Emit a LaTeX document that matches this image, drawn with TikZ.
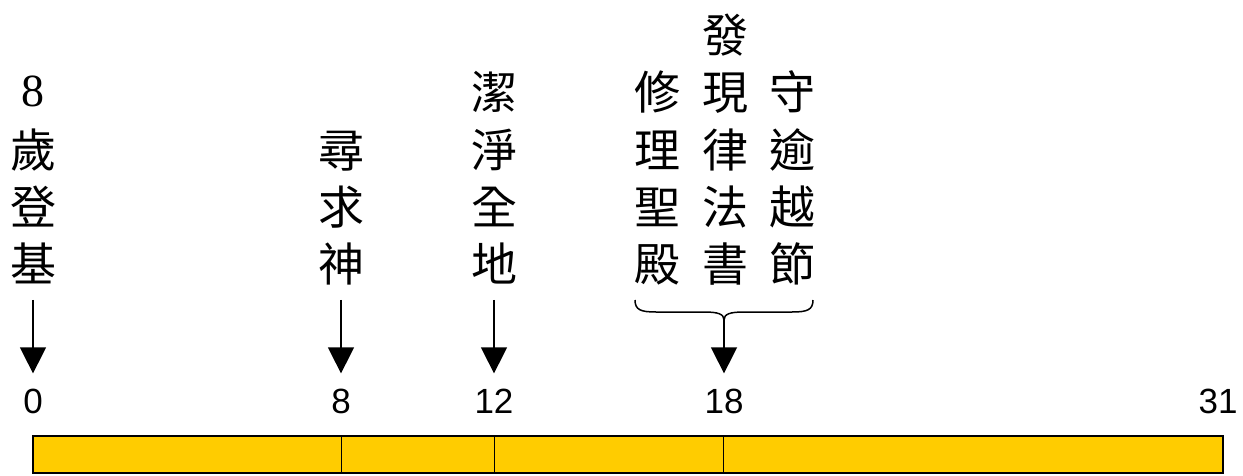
\documentclass[tikz,border=0pt]{standalone}
\usepackage{fontspec}
\setmainfont{Liberation Serif}
\newfontfamily\cjk{Noto Sans CJK TC}
\newfontfamily\numfont{Liberation Sans}
\usetikzlibrary{arrows.meta}
\definecolor{baryellow}{HTML}{FFCC00}
\begin{document}
\begin{tikzpicture}[x=1pt,y=-1pt,
 ch/.style={inner sep=0pt, anchor=base, font=\cjk\fontsize{46}{46}\selectfont},
 dg/.style={inner sep=0pt, anchor=base, font=\fontsize{46}{46}\selectfont},
 num/.style={inner sep=0pt, anchor=base, font=\numfont\fontsize{35}{35}\selectfont},
 arr/.style={line width=1.5pt, -{Triangle[length=26pt,width=26pt]}},
 bar/.style={fill=baryellow, draw=black, line width=1.5pt},
 divider/.style={draw=black, line width=1pt},
 bracestyle/.style={line width=1.5pt}]
\useasboundingbox (0,0) rectangle (1243,476);
% column at 0
\node[dg] (a0) at (33,107) {8};
\foreach \c [count=\i] in {歲,登,基} \node[ch] (a\i) at (33,93+57.3*\i+17) {\c};
% column at 8
\foreach \c [count=\i] in {尋,求,神} \node[ch] (b\i) at (341,93+57.3*\i+17) {\c};
% column at 12
\foreach \c [count=\i] in {潔,淨,全,地} \node[ch] (c\i) at (494,35.7+57.3*\i+17) {\c};
% columns at 18
\foreach \c [count=\i] in {修,理,聖,殿} \node[ch] (d\i) at (657,35.7+57.3*\i+17) {\c};
\foreach \c [count=\i] in {發,現,律,法,書} \node[ch] (e\i) at (725,-21.6+57.3*\i+17) {\c};
\foreach \c [count=\i] in {守,逾,越,節} \node[ch] (f\i) at (792,35.7+57.3*\i+17) {\c};
% numbers
\node[num] (n0) at (33,413) {0};
\node[num] (n8) at (341,413) {8};
\node[num] (n12) at (494,413) {12};
\node[num] (n18) at (724,413) {18};
\node[num] (n31) at (1218,413) {31};
% bar
\draw[bar] (33,436) rectangle (1223,473);
\coordinate (s8) at (341,436); \coordinate (e8) at (341,473);
\coordinate (s12) at (494,436); \coordinate (e12) at (494,473);
\coordinate (s18) at (723,436); \coordinate (e18) at (723,473);
\draw[divider] (s8) -- (e8);
\draw[divider] (s12) -- (e12);
\draw[divider] (s18) -- (e18);
% brace
\coordinate (bt) at (724,320);
\draw[bracestyle] (635,300) .. controls (635,310) and (641,312) .. (656,312) -- (704,312)
  .. controls (718,312) and (724,314) .. (bt)
  .. controls (724,314) and (730,312) .. (744,312) -- (792,312)
  .. controls (807,312) and (813,310) .. (813,300);
% arrows
\draw[arr, shorten >=15pt] ([yshift=-18pt]a3.base) -- (n0.north);
\draw[arr, shorten >=15pt] ([yshift=-18pt]b3.base) -- (n8.north);
\draw[arr, shorten >=15pt] ([yshift=-18pt]c4.base) -- (n12.north);
\draw[arr, shorten >=15pt] (bt) -- (n18.north);
\end{tikzpicture}
\end{document}
